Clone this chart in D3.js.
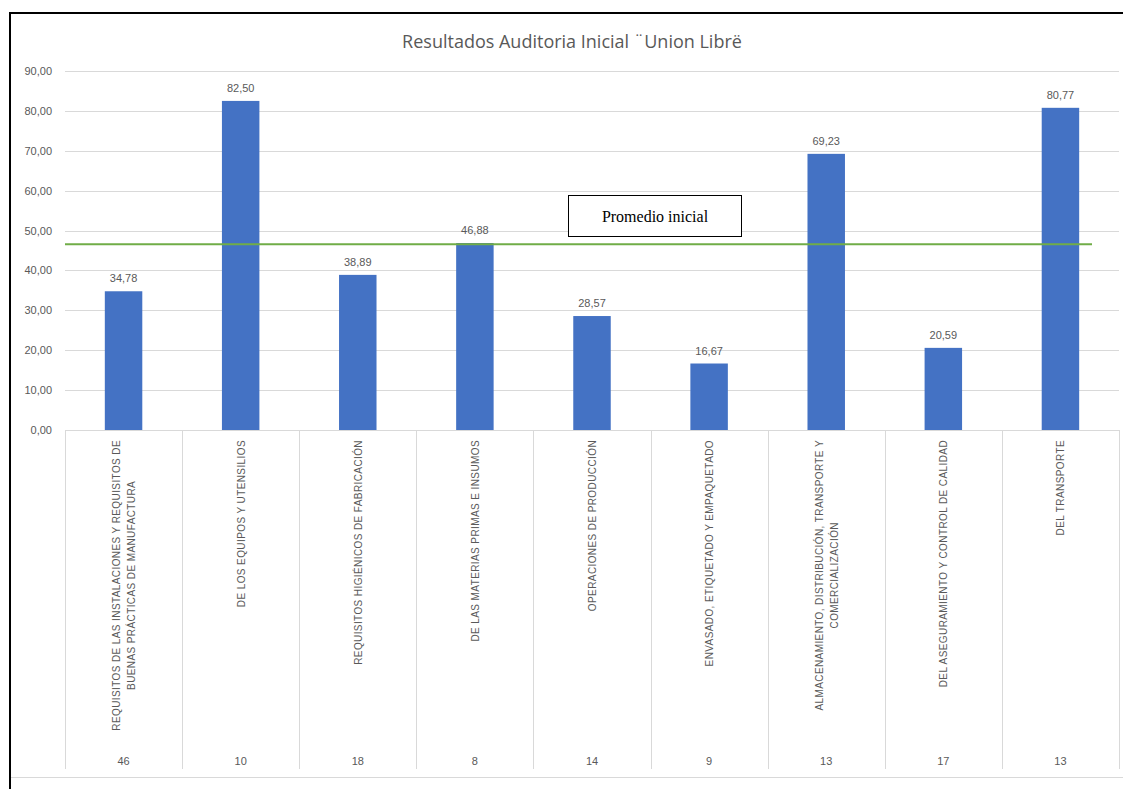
<!DOCTYPE html>
<html>
<head>
<meta charset="utf-8">
<script src="https://cdn.jsdelivr.net/npm/d3@7"></script>
<style>
  body { margin: 0; background: #fff; }
  text { font-family: "Liberation Sans", Arial, sans-serif; fill: #595959; }
</style>
</head>
<body>
<script>
// data
const categorias = [
  ["REQUISITOS DE LAS INSTALACIONES Y REQUISITOS DE", "BUENAS PRÁCTICAS DE MANUFACTURA"],
  ["DE LOS EQUIPOS Y UTENSILIOS"],
  ["REQUISITOS HIGIÉNICOS DE FABRICACIÓN"],
  ["DE LAS MATERIAS PRIMAS E INSUMOS"],
  ["OPERACIONES DE PRODUCCIÓN"],
  ["ENVASADO, ETIQUETADO Y EMPAQUETADO"],
  ["ALMACENAMIENTO, DISTRIBUCIÓN, TRANSPORTE Y", "COMERCIALIZACIÓN"],
  ["DEL ASEGURAMIENTO Y CONTROL DE CALIDAD"],
  ["DEL TRANSPORTE"]
];
const valores = [34.78, 82.50, 38.89, 46.88, 28.57, 16.67, 69.23, 20.59, 80.77];
const items = [46, 10, 18, 8, 14, 9, 13, 17, 13];
const yTicks = [0, 10, 20, 30, 40, 50, 60, 70, 80, 90];
const promedio = 46.54;
const titulo = "Resultados Auditoria Inicial ¨Union Libre\u0308";

const w = 1123, h = 789;
const plotL = 65, plotR = 1119, plotT = 71, plotB = 430;
const fmt = (v) => v.toFixed(2).replace(".", ",");

const svg = d3.select("body").append("svg")
  .attr("width", w)
  .attr("height", h);

const idx = d3.range(categorias.length);

const xScale = d3.scaleBand()
  .domain(idx)
  .range([plotL, plotR])
  .paddingInner(0.68)
  .paddingOuter(0.34);

const yScale = d3.scaleLinear()
  .domain([0, 90])
  .range([plotB, plotT]);

// frame lines
svg.append("line").attr("x1", 10).attr("x2", w).attr("y1", 13).attr("y2", 13)
  .attr("stroke", "#000").attr("stroke-width", 2);
svg.append("line").attr("x1", 10).attr("x2", 10).attr("y1", 12).attr("y2", h)
  .attr("stroke", "#000").attr("stroke-width", 2);
svg.append("line").attr("x1", 11).attr("x2", w).attr("y1", 777.5).attr("y2", 777.5)
  .attr("stroke", "#d9d9d9");

// title
svg.append("text")
  .attr("x", 572).attr("y", 48)
  .attr("text-anchor", "middle")
  .style("font-family", "'Open Sans', sans-serif")
  .style("font-size", "18px")
  .text(titulo);

// grid
svg.append("g").selectAll("line")
  .data(yTicks)
  .enter().append("line")
  .attr("x1", plotL).attr("x2", plotR)
  .attr("y1", (d) => Math.round(yScale(d)) + 0.5)
  .attr("y2", (d) => Math.round(yScale(d)) + 0.5)
  .attr("stroke", "#d9d9d9");

// y axis
const yAxis = d3.axisLeft(yScale)
  .tickValues(yTicks)
  .tickFormat(fmt)
  .tickSize(0)
  .tickPadding(13);

const gy = svg.append("g")
  .attr("transform", "translate(" + plotL + ",0)")
  .call(yAxis);
gy.select(".domain").remove();
gy.selectAll("text").style("font-size", "11px").attr("fill", "#595959");

// category separators
const step = xScale.step();
const sep = idx.map((i) => plotL + i * step);
sep.push(plotR);
svg.append("g").selectAll("line")
  .data(sep)
  .enter().append("line")
  .attr("x1", (d) => Math.round(d) + 0.5)
  .attr("x2", (d) => Math.round(d) + 0.5)
  .attr("y1", plotB).attr("y2", 769)
  .attr("stroke", "#d9d9d9");

// bars
svg.append("g").selectAll("rect")
  .data(valores)
  .enter().append("rect")
  .attr("x", (d, i) => xScale(i))
  .attr("width", xScale.bandwidth())
  .attr("y", (d) => yScale(d))
  .attr("height", (d) => yScale(0) - yScale(d))
  .attr("fill", "#4472C4");

// value labels
svg.append("g").selectAll("text")
  .data(valores)
  .enter().append("text")
  .attr("x", (d, i) => xScale(i) + xScale.bandwidth() / 2)
  .attr("y", (d) => yScale(d) - 9)
  .attr("text-anchor", "middle")
  .style("font-size", "11px")
  .text(fmt);

// category labels, rotated
const cx = (i) => xScale(i) + xScale.bandwidth() / 2;
const catG = svg.append("g").selectAll("g")
  .data(categorias)
  .enter().append("g");

catG.each(function (lines, i) {
  const g = d3.select(this);
  const n = lines.length;
  const t = g.selectAll("text")
    .data(lines)
    .enter().append("text")
    .attr("text-anchor", "middle")
    .style("font-size", "10px")
    .style("letter-spacing", "0.4px")
    .text((d) => d);
  let maxW = 0;
  t.each(function () { maxW = Math.max(maxW, this.getComputedTextLength()); });
  const mid = 440 + maxW / 2;
  t.attr("transform", (d, j) => {
    const x = cx(i) + (j - (n - 1) / 2) * 15 + 4;
    return "translate(" + x + "," + mid + ") rotate(-90)";
  });
});

// item counts
svg.append("g").selectAll("text")
  .data(items)
  .enter().append("text")
  .attr("x", (d, i) => cx(i))
  .attr("y", 765)
  .attr("text-anchor", "middle")
  .style("font-size", "11px")
  .text((d) => d);

// average line and its box
svg.append("line")
  .attr("x1", plotL).attr("x2", 1092)
  .attr("y1", yScale(promedio)).attr("y2", yScale(promedio))
  .attr("stroke", "#70AD47")
  .attr("stroke-width", 2);

svg.append("rect")
  .attr("x", 568.5).attr("y", 195.5)
  .attr("width", 173).attr("height", 41)
  .attr("fill", "#fff")
  .attr("stroke", "#000");

svg.append("text")
  .attr("x", 655).attr("y", 222)
  .attr("text-anchor", "middle")
  .style("font-family", "'Liberation Serif', 'Times New Roman', serif")
  .style("font-size", "16px")
  .style("fill", "#000")
  .text("Promedio inicial");
</script>
</body>
</html>
